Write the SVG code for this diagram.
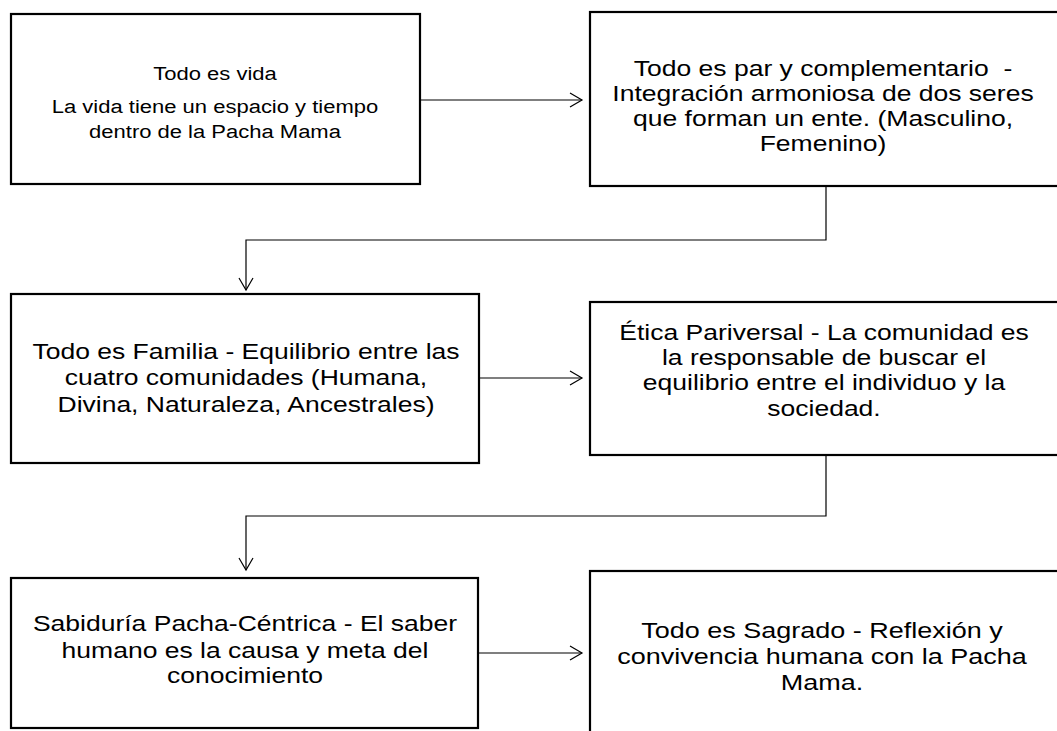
<svg xmlns="http://www.w3.org/2000/svg" width="1057" height="731" viewBox="0 0 1057 731">
<defs>
<style>
.box{fill:#fff;stroke:#000;stroke-width:2.2}
.t{font-family:"Liberation Sans",Arial,sans-serif;font-size:21.5px;fill:#000;text-anchor:middle}
.s{font-size:19px}
.c{fill:none;stroke:#000;stroke-width:1.2}
</style>
<marker id="ah" markerWidth="16" markerHeight="16" refX="13" refY="8" orient="auto" markerUnits="userSpaceOnUse">
<path d="M1,1 L13,8 L1,15" fill="none" stroke="#000" stroke-width="1.2"/>
</marker>
</defs>
<rect width="1057" height="731" fill="#fff"/>
<g id="connectors">
<path class="c" d="M420,100 H582" marker-end="url(#ah)"/>
<path class="c" d="M826,186 V240 H246 V290" marker-end="url(#ah)"/>
<path class="c" d="M479,378 H582" marker-end="url(#ah)"/>
<path class="c" d="M826,455 V516 H246 V570" marker-end="url(#ah)"/>
<path class="c" d="M478,653 H582" marker-end="url(#ah)"/>
</g>
<g id="n1">
<rect class="box" x="11" y="14" width="409" height="170"/>
<g transform="translate(215,0) scale(1.158,1)">
<text class="t s" x="0" y="80">Todo es vida</text>
<text class="t s" x="0" y="113">La vida tiene un espacio y tiempo</text>
<text class="t s" x="0" y="138">dentro de la Pacha Mama</text>
</g>
</g>
<g id="n2">
<rect class="box" x="590" y="12" width="470" height="174"/>
<g transform="translate(823,0) scale(1.233,1)">
<text class="t" x="0" y="75.7" xml:space="preserve">Todo es par y complementario  -</text>
<text class="t" x="0" y="100.7">Integración armoniosa de dos seres</text>
<text class="t" x="0" y="125.7">que forman un ente. (Masculino,</text>
<text class="t" x="0" y="150.7">Femenino)</text>
</g>
</g>
<g id="n3">
<rect class="box" x="11" y="294" width="468" height="169"/>
<g transform="translate(246,0) scale(1.233,1)">
<text class="t" x="0" y="359">Todo es Familia - Equilibrio entre las</text>
<text class="t" x="0" y="385">cuatro comunidades (Humana,</text>
<text class="t" x="0" y="412">Divina, Naturaleza, Ancestrales)</text>
</g>
</g>
<g id="n4">
<rect class="box" x="590" y="302" width="470" height="153"/>
<g transform="translate(824,0) scale(1.233,1)">
<text class="t" x="0" y="340">Ética Pariversal - La comunidad es</text>
<text class="t" x="0" y="365">la responsable de buscar el</text>
<text class="t" x="0" y="390">equilibrio entre el individuo y la</text>
<text class="t" x="0" y="416">sociedad.</text>
</g>
</g>
<g id="n5">
<rect class="box" x="11" y="578" width="467" height="150"/>
<g transform="translate(245,0) scale(1.233,1)">
<text class="t" x="0" y="631">Sabiduría Pacha-Céntrica - El saber</text>
<text class="t" x="0" y="658">humano es la causa y meta del</text>
<text class="t" x="0" y="683">conocimiento</text>
</g>
</g>
<g id="n6">
<rect class="box" x="590" y="571" width="470" height="170"/>
<g transform="translate(822,0) scale(1.256,1)">
<text class="t" x="0" y="638">Todo es Sagrado - Reflexión y</text>
<text class="t" x="0" y="664">convivencia humana con la Pacha</text>
<text class="t" x="0" y="690">Mama.</text>
</g>
</g>
</svg>
